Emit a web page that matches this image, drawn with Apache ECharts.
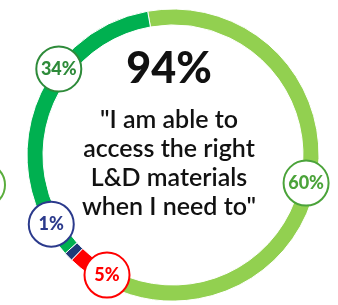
<!DOCTYPE html>
<html>
<head>
<meta charset="utf-8">
<script src="https://cdn.jsdelivr.net/npm/echarts@6/dist/echarts.min.js"></script>
<style>
  html, body { margin: 0; padding: 0; background: #fff; }
  #chart { width: 338px; height: 305px; }
</style>
</head>
<body>
<div id="chart"></div>
<script>
// answers, clockwise from the top
const answers = ['Agree', 'Disagree', "Don't know", 'Strongly agree'];
const shares = [60, 5, 1, 34];
const ringColors = ['#92d050', '#ff0000', '#1f3a78', '#00b050'];
const labelColors = ['#4ba33a', '#ff0000', '#2b3a8c', '#2e8b3a'];
const headline = '94%';
const statement = ['"I am able to', 'access the right', 'L&D materials', 'when I need to"'];

// where the bubbles sit on the ring: [radius px, degrees clockwise from top]
const bubbleSpots = [[136, 101.9], [137, 208.8], [140, 240.4], [143, 307]];

const cx = 173, cy = 155;

const chart = echarts.init(document.getElementById('chart'));

chart.setOption({
  animation: false,
  polar: { center: [cx, cy], radius: [0, 146] },
  angleAxis: { type: 'value', min: 0, max: 360, startAngle: 90, clockwise: true, show: false },
  radiusAxis: { type: 'value', min: 0, max: 146, show: false },
  graphic: [
    {
      type: 'circle', shape: { cx: -17, cy: 185, r: 22 },
      style: { fill: '#fff', stroke: '#5aad3c', lineWidth: 2 }, z: 10
    },
    {
      type: 'text', left: 'center', top: 48,
      style: {
        text: headline, fontFamily: 'Lato', fontWeight: 900, fontSize: 43,
        fill: '#111', textAlign: 'center'
      }, z: 10
    },
    {
      type: 'text', left: 'center', top: 105,
      style: {
        text: statement.join('\n'), fontFamily: 'Lato', fontWeight: 600, fontSize: 25,
        lineHeight: 29, fill: '#111', textAlign: 'center'
      }, z: 10
    }
  ],
  series: [
    {
      type: 'pie',
      center: [cx, cy],
      radius: [130, 146],
      startAngle: 100,
      clockwise: true,
      silent: true,
      label: { show: false },
      labelLine: { show: false },
      itemStyle: { borderColor: '#fff', borderWidth: 1 },
      data: answers.map((name, i) => ({
        name: name, value: shares[i], itemStyle: { color: ringColors[i] }
      }))
    },
    {
      type: 'scatter',
      coordinateSystem: 'polar',
      symbol: 'circle',
      symbolSize: 45,
      silent: true,
      z: 5,
      data: shares.map((v, i) => ({
        value: bubbleSpots[i],
        itemStyle: { color: '#fff', opacity: 1, borderColor: labelColors[i], borderWidth: 2 },
        label: {
          show: true, position: 'inside', formatter: v + '%',
          fontFamily: 'Lato', fontWeight: 900, fontSize: 18, color: labelColors[i]
        }
      }))
    }
  ]
});
</script>
</body>
</html>
